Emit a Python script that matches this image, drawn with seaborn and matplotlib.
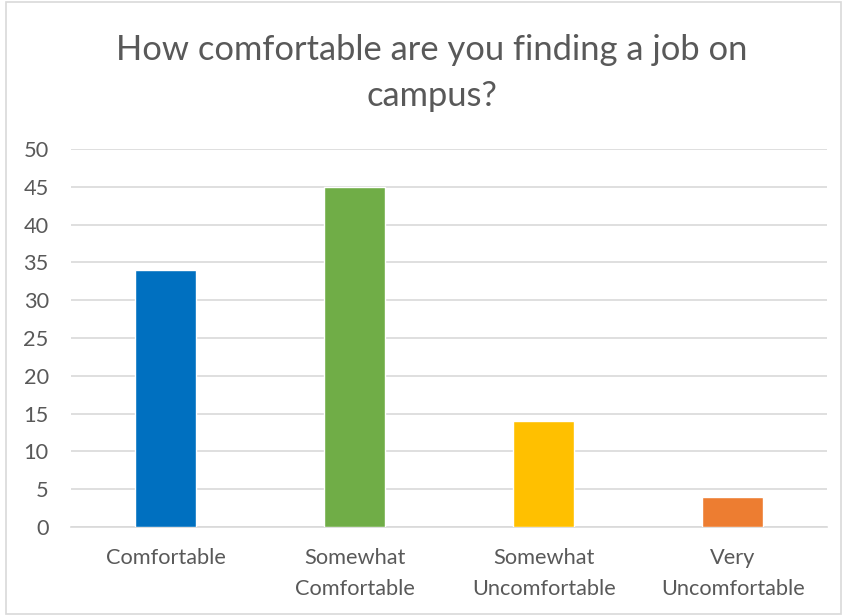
import matplotlib
matplotlib.use("Agg")
import matplotlib.pyplot as plt
import seaborn as sns
import pandas as pd
from matplotlib.patches import Rectangle

categories = ["Comfortable", "Somewhat\nComfortable", "Somewhat\nUncomfortable", "Very\nUncomfortable"]
counts = [34, 45, 14, 4]
colors = ["#0070C0", "#70AD47", "#FFC000", "#ED7D31"]
y_ticks = list(range(0, 55, 5))
title = "How comfortable are you finding a job on\ncampus?"

sns.set_theme(style="white")
plt.rcParams["font.family"] = ["Lato", "DejaVu Sans"]

df = pd.DataFrame({"category": categories, "count": counts})

fig = plt.figure(figsize=(8.45, 6.16), dpi=100)
ax = fig.add_axes([0.084, 0.1445, 0.895, 0.6135])

sns.barplot(data=df, x="category", y="count", hue="category", palette=colors,
            legend=False, width=0.32, saturation=1, ax=ax, zorder=3)

ax.set_ylim(0, 50)
ax.set_yticks(y_ticks)
ax.set_xlim(-0.5, len(categories) - 0.5)
ax.yaxis.grid(True, color="#D9D9D9", linewidth=1.2, zorder=0)
ax.set_axisbelow(True)
for side in ["left", "right", "top"]:
    ax.spines[side].set_visible(False)
ax.spines["bottom"].set_color("#D9D9D9")
ax.spines["bottom"].set_linewidth(1.2)
ax.set_xlabel("")
ax.set_ylabel("")
ax.tick_params(axis="both", length=0, labelsize=15.7, colors="#595959")
ax.tick_params(axis="x", pad=15)
ax.tick_params(axis="y", pad=16)
for lbl in ax.get_xticklabels():
    lbl.set_linespacing(1.7)

fig.text(0.511, 0.882, title, ha="center", va="center", fontsize=24.8,
         color="#595959", linespacing=1.55)

fig.patches.append(Rectangle((0.007, 0.003), 0.988, 0.994, transform=fig.transFigure,
                             fill=False, edgecolor="#D9D9D9", linewidth=1.2))

fig.savefig("out.png", dpi=100)
